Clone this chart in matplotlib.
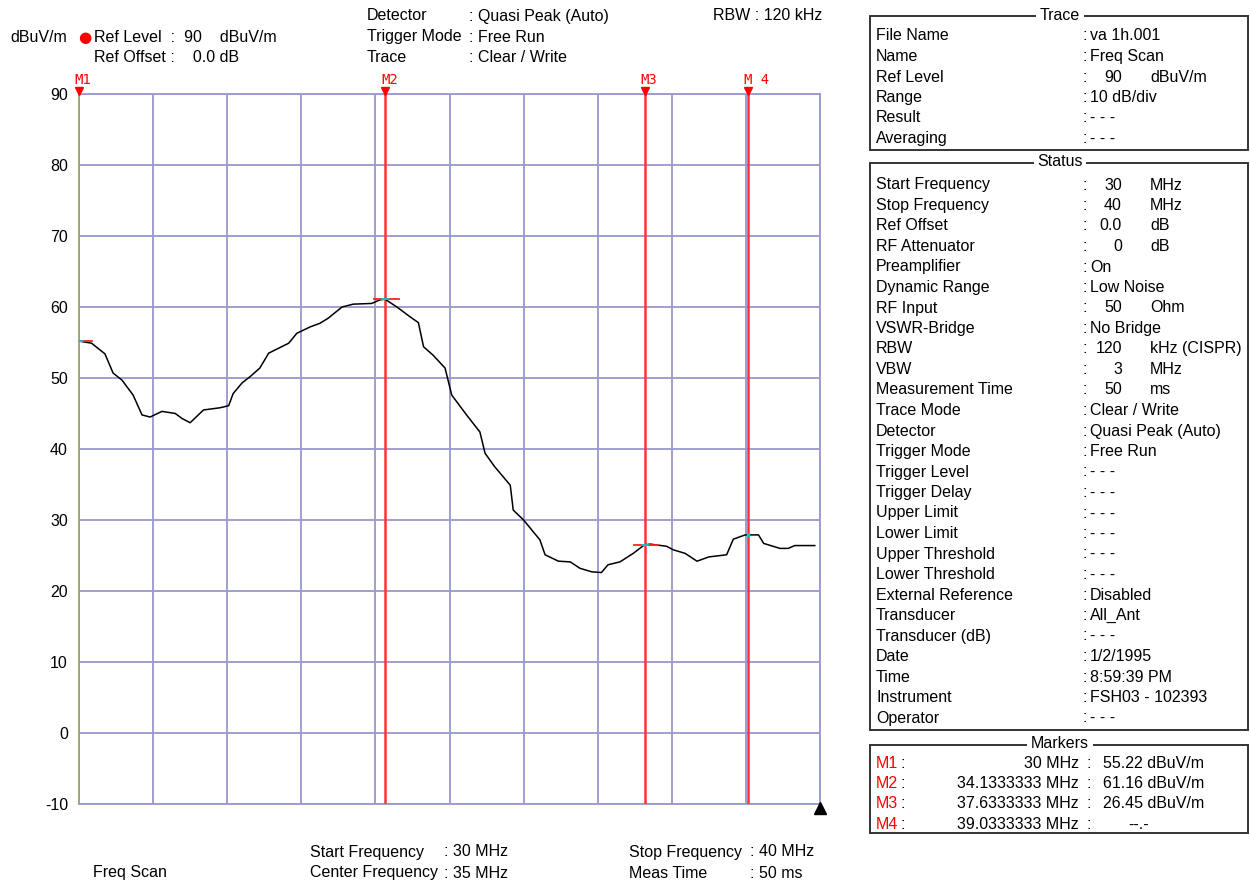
import matplotlib
matplotlib.use("Agg")
from matplotlib import pyplot as plt
from matplotlib.patches import Rectangle

plt.rcParams['font.family'] = ['Liberation Sans', 'DejaVu Sans']
plt.rcParams['axes.unicode_minus'] = False

# trace (MHz, dBuV/m)
freq = [30.00, 30.17, 30.35, 30.46, 30.58, 30.73, 30.85, 30.96, 31.12, 31.30,
        31.39, 31.50, 31.68, 31.90, 32.02, 32.08, 32.20, 32.31, 32.44, 32.56,
        32.83, 32.94, 33.12, 33.25, 33.36, 33.55, 33.70, 33.95, 34.06, 34.13,
        34.29, 34.47, 34.58, 34.65, 34.78, 34.94, 35.03, 35.23, 35.41, 35.48,
        35.61, 35.82, 35.86, 36.00, 36.22, 36.29, 36.47, 36.63, 36.76, 36.92,
        37.05, 37.14, 37.30, 37.48, 37.63, 37.71, 37.93, 38.02, 38.18, 38.34,
        38.50, 38.74, 38.83, 38.99, 39.17, 39.24, 39.46, 39.57, 39.66, 39.93]
level = [55.2, 54.9, 53.4, 50.7, 49.7, 47.6, 44.8, 44.5, 45.3, 45.0,
         44.3, 43.7, 45.5, 45.8, 46.1, 47.8, 49.3, 50.2, 51.4, 53.5,
         54.9, 56.3, 57.2, 57.7, 58.4, 60.0, 60.4, 60.5, 61.0, 61.1,
         60.0, 58.6, 57.8, 54.4, 53.2, 51.4, 47.6, 44.8, 42.4, 39.4,
         37.5, 34.9, 31.4, 30.0, 27.2, 25.1, 24.2, 24.1, 23.2, 22.7,
         22.6, 23.7, 24.1, 25.3, 26.5, 26.6, 26.3, 25.8, 25.3, 24.2,
         24.8, 25.1, 27.3, 27.9, 27.9, 26.7, 26.0, 26.0, 26.4, 26.4]

marker_names = ["M1", "M2", "M3", "M4"]
marker_freq = [30.0, 34.1333333, 37.6333333, 39.0333333]
marker_level = [55.22, 61.16, 26.45, 27.9]
marker_text = ["55.22 dBuV/m", "61.16 dBuV/m", "26.45 dBuV/m", "--.-"]
marker_freq_text = ["30 MHz", "34.1333333 MHz", "37.6333333 MHz", "39.0333333 MHz"]

trace_rows = [("File Name", "va 1h.001"), ("Name", "Freq Scan"),
              ("Ref Level", ("90", "dBuV/m")), ("Range", "10 dB/div"),
              ("Result", "- - -"), ("Averaging", "- - -")]
status_rows = [("Start Frequency", ("30", "MHz")), ("Stop Frequency", ("40", "MHz")),
               ("Ref Offset", ("0.0", "dB")), ("RF Attenuator", ("0", "dB")),
               ("Preamplifier", "On"), ("Dynamic Range", "Low Noise"),
               ("RF Input", ("50", "Ohm")), ("VSWR-Bridge", "No Bridge"),
               ("RBW", ("120", "kHz (CISPR)")), ("VBW", ("3", "MHz")),
               ("Measurement Time", ("50", "ms")), ("Trace Mode", "Clear / Write"),
               ("Detector", "Quasi Peak (Auto)"), ("Trigger Mode", "Free Run"),
               ("Trigger Level", "- - -"), ("Trigger Delay", "- - -"),
               ("Upper Limit", "- - -"), ("Lower Limit", "- - -"),
               ("Upper Threshold", "- - -"), ("Lower Threshold", "- - -"),
               ("External Reference", "Disabled"), ("Transducer", "All_Ant"),
               ("Transducer (dB)", "- - -"), ("Date", "1/2/1995"),
               ("Time", "8:59:39 PM"), ("Instrument", "FSH03 - 102393"),
               ("Operator", "- - -")]

W, H = 1250, 884
fig = plt.figure(figsize=(12.5, 8.84), dpi=100)
FS = 11.5
grid_c = "#9999cc"


def px(x, y):
    return x / W, 1 - y / H


def txt(x, y, s, **kw):
    kw.setdefault("fontsize", FS)
    kw.setdefault("va", "center")
    fig.text(*px(x, y), s, **kw)


ax = fig.add_axes([79 / W, 1 - 804 / H, (820 - 79) / W, (804 - 94) / H])
ax.set_xlim(30, 40)
ax.set_ylim(-10, 90)
ax.set_xticks(range(30, 41))
ax.set_yticks(range(-10, 91, 10))
ax.grid(True, color=grid_c, lw=1.3)
ax.tick_params(axis="x", length=0, labelbottom=False)
ax.tick_params(axis="y", length=0, labelsize=FS, pad=8)
for s in ax.spines.values():
    s.set_color(grid_c)
    s.set_linewidth(1.3)
ax.spines["left"].set_color("#a0a070")
ax.set_axisbelow(True)

for f in marker_freq[1:]:
    ax.axvline(f, color="#ff3333", lw=1.8, zorder=3)
ax.plot(freq, level, color="black", lw=1.1, zorder=4)
for f, l in zip(marker_freq[:3], marker_level[:3]):
    ax.plot([f - 0.15, f + 0.18], [l, l], color="#ff2222", lw=1.3, zorder=5)
    ax.plot([f - 0.04, f + 0.04], [l, l], color="#00cccc", lw=1.3, zorder=6)
ax.plot([marker_freq[3]], [marker_level[3]], marker="s", ms=2, color="#00cccc", zorder=6)

# marker flags above the plot
for name, f in zip(marker_names, marker_freq):
    ax.plot([f], [90.4], marker="v", color="red", ms=6, clip_on=False, zorder=7)
    ax.annotate(name if name != "M4" else "M 4", (f, 90), xytext=(-3, 10),
                textcoords="offset points", color="red", fontsize=10,
                family="DejaVu Sans Mono", va="center", ha="left", annotation_clip=False)
ax.plot([40], [-10.6], marker="^", color="black", ms=8, clip_on=False, zorder=7)

# header
txt(10, 37, "dBuV/m")
txt(85, 37, "●", color="red", ha="center", family="DejaVu Sans", fontsize=11)
txt(94, 37, "Ref Level  :  90    dBuV/m")
txt(94, 57, "Ref Offset :    0.0 dB")
txt(367, 16, "Detector")
txt(367, 37, "Trigger Mode")
txt(367, 57, "Trace")
txt(469, 16, ": Quasi Peak (Auto)")
txt(469, 37, ": Free Run")
txt(469, 57, ": Clear / Write")
txt(822, 16, "RBW : 120 kHz", ha="right")

# footer
txt(93, 873, "Freq Scan")
txt(310, 852, "Start Frequency")
txt(310, 873, "Center Frequency")
txt(444, 852, ": 30 MHz")
txt(444, 873, ": 35 MHz")
txt(629, 852, "Stop Frequency")
txt(629, 873, "Meas Time")
txt(750, 852, ": 40 MHz")
txt(750, 873, ": 50 ms")


def box(y0, y1, title):
    fig.patches.append(Rectangle(px(870, y1), (1248 - 870) / W, (y1 - y0) / H,
                                 transform=fig.transFigure, fill=False,
                                 ec="#333333", lw=1.4, figure=fig))
    txt(1060, y0 - 1, title, ha="center",
        bbox=dict(facecolor="white", edgecolor="none", pad=2.5))


def rows(y_first, items):
    for i, (lab, val) in enumerate(items):
        y = y_first + i * 20.5
        txt(876, y, lab)
        txt(1083, y, ":")
        if isinstance(val, tuple):
            txt(1122, y, val[0], ha="right")
            txt(1150, y, val[1])
        else:
            txt(1090, y, val)


box(16, 150, "Trace")
rows(36, trace_rows)
box(163, 730, "Status")
rows(185, status_rows)
box(745, 833, "Markers")
for i in range(4):
    y = 763 + i * 20.5
    txt(876, y, marker_names[i], color="red")
    txt(900, y, ":")
    txt(1079, y, marker_freq_text[i], ha="right")
    txt(1087, y, ":")
    if marker_text[i] == "--.-":
        txt(1128, y, marker_text[i])
    else:
        txt(1103, y, marker_text[i])

fig.savefig("out.png", dpi=100)
